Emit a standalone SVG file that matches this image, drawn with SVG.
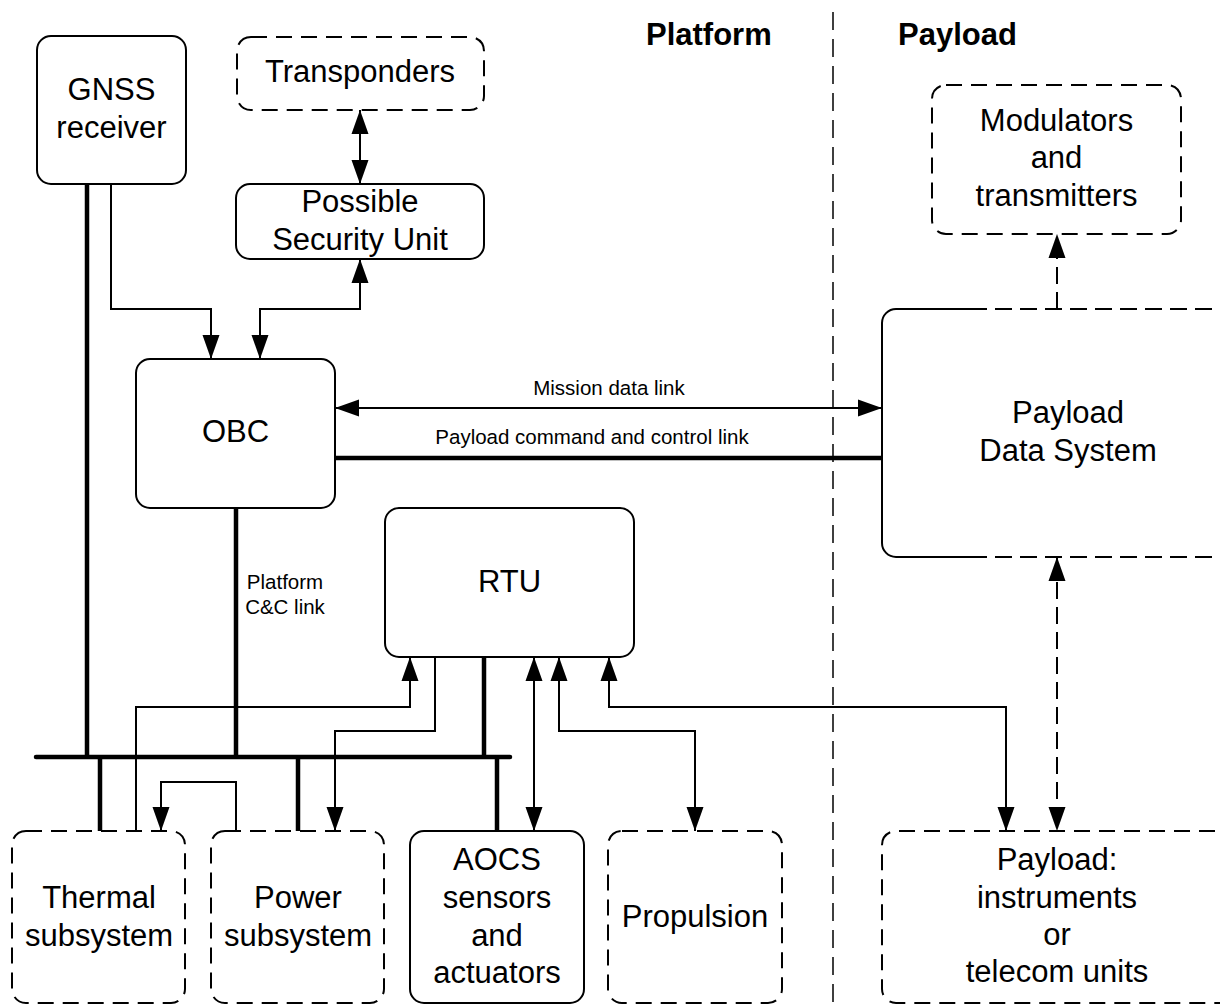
<svg xmlns="http://www.w3.org/2000/svg" width="1220" height="1006" viewBox="0 0 1220 1006">
<style>
  text { font-family: "Liberation Sans", Arial, sans-serif; fill: #000; }
  .t { font-size: 31px; text-anchor: middle; }
  .s { font-size: 20.5px; }
  .h { font-size: 31px; font-weight: bold; }
  .box { fill: #fff; stroke: #000; stroke-width: 2; }
  .dbox { fill: #fff; stroke: #000; stroke-width: 2; stroke-dasharray: 16 9; }
  .thin { fill: none; stroke: #000; stroke-width: 2; }
  .thick { fill: none; stroke: #000; stroke-width: 4.5; }
  .dash { fill: none; stroke: #000; stroke-width: 2; stroke-dasharray: 17 8; }
  .div { fill: none; stroke: #000; stroke-width: 1.5; stroke-dasharray: 18 9; }
</style>
<defs>
  <marker id="ah" markerUnits="userSpaceOnUse" markerWidth="24" markerHeight="18" refX="24" refY="8.5" orient="auto-start-reverse" viewBox="0 0 24 17">
    <path d="M0,0 L24,8.5 L0,17 z" fill="#000"/>
  </marker>
</defs>
<rect width="1220" height="1006" fill="#fff"/>

<g id="divider">
  <line class="div" x1="833" y1="12" x2="833" y2="1006"/>
  <text class="h" x="646" y="45">Platform</text>
  <text class="h" x="898" y="45">Payload</text>
</g>

<g id="connectors">
  <!-- thick bus -->
  <line class="thick" x1="36" y1="757" x2="510" y2="757" stroke-linecap="round"/>
  <line class="thick" x1="87" y1="184" x2="87" y2="757"/>
  <line class="thick" x1="236" y1="508" x2="236" y2="757"/>
  <line class="thick" x1="484" y1="657" x2="484" y2="757"/>
  <line class="thick" x1="100" y1="757" x2="100" y2="831"/>
  <line class="thick" x1="298" y1="757" x2="298" y2="831"/>
  <line class="thick" x1="497" y1="757" x2="497" y2="831"/>
  <line class="thick" x1="335" y1="458" x2="882" y2="458"/>
  <!-- top -->
  <path class="thin" d="M360,110 V184" marker-start="url(#ah)" marker-end="url(#ah)"/>
  <path class="thin" d="M111,184 V309 H211 V359" marker-end="url(#ah)"/>
  <path class="thin" d="M360,259 V309 H260 V359" marker-start="url(#ah)" marker-end="url(#ah)"/>
  <path class="thin" d="M335,408 H882" marker-start="url(#ah)" marker-end="url(#ah)"/>
  <path class="dash" d="M1057,309 V234" marker-end="url(#ah)"/>
  <!-- bottom -->
  <path class="thin" d="M136,831 V707 H410 V657" marker-end="url(#ah)"/>
  <path class="thin" d="M435,657 V731 H335 V831" marker-end="url(#ah)"/>
  <path class="thin" d="M236,831 V782 H161 V831" marker-end="url(#ah)"/>
  <path class="thin" d="M534,657 V831" marker-start="url(#ah)" marker-end="url(#ah)"/>
  <path class="thin" d="M559,657 V731 H695 V831" marker-start="url(#ah)" marker-end="url(#ah)"/>
  <path class="thin" d="M609,657 V707 H1006 V831" marker-start="url(#ah)" marker-end="url(#ah)"/>
  <path class="dash" d="M1057,557 V831" marker-start="url(#ah)" marker-end="url(#ah)"/>
  <text class="s" x="609" y="395" text-anchor="middle">Mission data link</text>
  <text class="s" x="592" y="444" text-anchor="middle">Payload command and control link</text>
  <text class="s" x="285" y="589" text-anchor="middle">Platform</text>
  <text class="s" x="285" y="614" text-anchor="middle">C&amp;C link</text>
</g>

<g id="gnss">
  <rect class="box" x="37" y="36" width="149" height="148" rx="14"/>
  <text class="t" x="111.5" y="100">GNSS</text>
  <text class="t" x="111.5" y="138">receiver</text>
</g>
<g id="transponders">
  <rect class="dbox" x="237" y="37" width="247" height="73" rx="14"/>
  <text class="t" x="360" y="82">Transponders</text>
</g>
<g id="security">
  <rect class="box" x="236" y="184" width="248" height="75" rx="14"/>
  <text class="t" x="360" y="212">Possible</text>
  <text class="t" x="360" y="250">Security Unit</text>
</g>
<g id="obc">
  <rect class="box" x="136" y="359" width="199" height="149" rx="14"/>
  <text class="t" x="235.5" y="442">OBC</text>
</g>
<g id="rtu">
  <rect class="box" x="385" y="508" width="249" height="149" rx="14"/>
  <text class="t" x="509.5" y="592">RTU</text>
</g>
<g id="modulators">
  <rect class="dbox" x="932" y="85" width="249" height="149" rx="14"/>
  <text class="t" x="1056.5" y="131">Modulators</text>
  <text class="t" x="1056.5" y="168">and</text>
  <text class="t" x="1056.5" y="206">transmitters</text>
</g>
<g id="pds">
  <rect x="882" y="309" width="360" height="248" fill="#fff"/>
  <path class="thin" d="M970,309 H896 A14,14 0 0 0 882,323 V543 A14,14 0 0 0 896,557 H970"/>
  <path class="dash" d="M970,309 H1240 M970,557 H1240"/>
  <text class="t" x="1068" y="423">Payload</text>
  <text class="t" x="1068" y="461">Data System</text>
</g>
<g id="thermal">
  <rect class="dbox" x="12" y="831" width="173" height="172" rx="14"/>
  <text class="t" x="99" y="908">Thermal</text>
  <text class="t" x="99" y="946">subsystem</text>
</g>
<g id="power">
  <rect class="dbox" x="211" y="831" width="173" height="172" rx="14"/>
  <text class="t" x="298" y="908">Power</text>
  <text class="t" x="298" y="946">subsystem</text>
</g>
<g id="aocs">
  <rect class="box" x="410" y="831" width="174" height="172" rx="14"/>
  <text class="t" x="497" y="870">AOCS</text>
  <text class="t" x="497" y="908">sensors</text>
  <text class="t" x="497" y="946">and</text>
  <text class="t" x="497" y="983">actuators</text>
</g>
<g id="propulsion">
  <rect class="dbox" x="608" y="831" width="174" height="172" rx="14"/>
  <text class="t" x="695" y="927">Propulsion</text>
</g>
<g id="payload">
  <path class="dbox" d="M1240,831 H896 A14,14 0 0 0 882,845 V989 A14,14 0 0 0 896,1003 H1240"/>
  <text class="t" x="1057" y="870">Payload:</text>
  <text class="t" x="1057" y="908">instruments</text>
  <text class="t" x="1057" y="945">or</text>
  <text class="t" x="1057" y="982">telecom units</text>
</g>
</svg>
